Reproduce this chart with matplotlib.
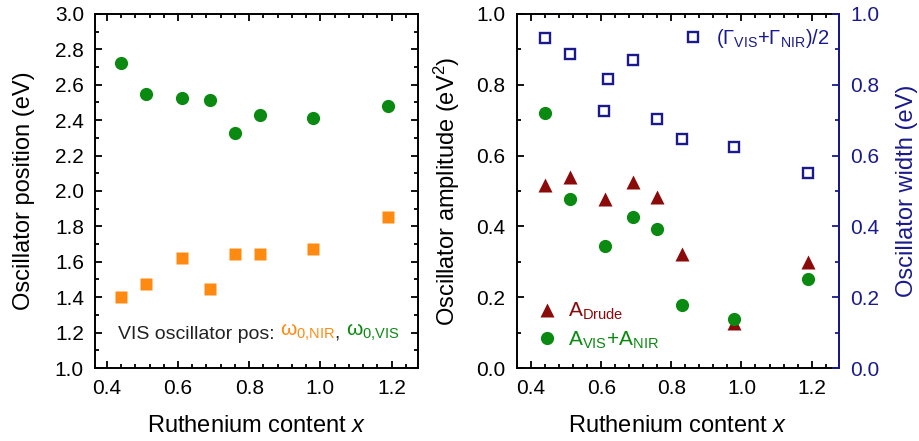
import matplotlib
matplotlib.use("Agg")
import matplotlib.pyplot as plt
from matplotlib.ticker import MultipleLocator
from matplotlib.lines import Line2D

plt.rcParams['font.family'] = ['Liberation Sans', 'DejaVu Sans']
plt.rcParams['mathtext.fontset'] = 'custom'
plt.rcParams['mathtext.rm'] = 'Liberation Sans'
plt.rcParams['mathtext.it'] = 'Liberation Sans:italic'
plt.rcParams['mathtext.sf'] = 'Liberation Sans'

# ---- data ----
x_ru = [0.44, 0.51, 0.61, 0.69, 0.76, 0.83, 0.98, 1.19]
w0_vis = [2.72, 2.55, 2.525, 2.515, 2.33, 2.43, 2.41, 2.48]
w0_nir = [1.40, 1.475, 1.62, 1.445, 1.645, 1.645, 1.67, 1.855]

a_drude = [0.517, 0.538, 0.477, 0.525, 0.483, 0.323, 0.126, 0.30]
a_visnir = [0.72, 0.477, 0.345, 0.427, 0.393, 0.179, 0.137, 0.252]

x_gamma = [0.44, 0.51, 0.618, 0.608, 0.69, 0.76, 0.83, 0.98, 1.19]
gamma = [0.931, 0.888, 0.817, 0.726, 0.871, 0.704, 0.647, 0.625, 0.550]

green = '#0b8a12'
orange = '#ff8a12'
darkred = '#8b0a0a'
navy = '#1a1a8c'

fig = plt.figure(figsize=(9.2, 4.41), dpi=100)
ax1 = fig.add_axes([0.1033, 0.1655, 0.351, 0.803])
ax2 = fig.add_axes([0.5616, 0.1655, 0.3507, 0.803])


def style(ax, right=True):
    for s in ax.spines.values():
        s.set_linewidth(1.4)
    ax.xaxis.set_major_locator(MultipleLocator(0.2))
    ax.xaxis.set_minor_locator(MultipleLocator(0.04))
    ax.tick_params(which='both', direction='in', top=True, right=right,
                   labelsize=15, width=1.3, pad=8)
    ax.tick_params(which='major', length=5)
    ax.tick_params(which='minor', length=3)


# left panel
ax1.plot(x_ru, w0_vis, 'o', color=green, ms=9.5, mec='none')
ax1.plot(x_ru, w0_nir, 's', color=orange, ms=8, mec='none')
ax1.set_xlim(0.367, 1.274)
ax1.set_ylim(1.0, 3.0)
style(ax1)
ax1.yaxis.set_major_locator(MultipleLocator(0.2))
ax1.yaxis.set_minor_locator(MultipleLocator(0.1))
ax1.set_xlabel('Ruthenium content $x$', fontsize=17, labelpad=12)
ax1.set_ylabel('Oscillator position (eV)', fontsize=17, labelpad=14)

t1 = ax1.text(0.432, 1.165, 'VIS oscillator pos: ', fontsize=14, color='#222222',
              va='baseline')
t2 = ax1.annotate(r'ω$_{\mathrm{0{,}NIR}}$', xy=(1, 0), xycoords=t1,
                  fontsize=15, color=orange, va='bottom')
t3 = ax1.annotate(', ', xy=(1, 0), xycoords=t2, fontsize=14, color='#222222',
                  va='bottom')
ax1.annotate(r'ω$_{\mathrm{0{,}VIS}}$', xy=(1, 0), xycoords=t3,
             fontsize=15, color=green, va='bottom')

# right panel
ax2.plot(x_ru, a_drude, '^', color=darkred, ms=10.5, mec='none')
ax2.plot(x_ru, a_visnir, 'o', color=green, ms=9.5, mec='none')
ax2.set_xlim(0.359, 1.279)
ax2.set_ylim(0.0, 1.0)
style(ax2, right=False)
ax2.yaxis.set_major_locator(MultipleLocator(0.2))
ax2.yaxis.set_minor_locator(MultipleLocator(0.1))
ax2.set_xlabel('Ruthenium content $x$', fontsize=17, labelpad=12)
ax2.set_ylabel('Oscillator amplitude (eV$^2$)', fontsize=17, labelpad=10)

ax3 = ax2.twinx()
ax3.plot(x_gamma, gamma, 's', color=navy, ms=7, mfc='white', mec=navy, mew=1.7)
ax3.set_ylim(0.0, 1.0)
ax3.yaxis.set_major_locator(MultipleLocator(0.2))
ax3.yaxis.set_minor_locator(MultipleLocator(0.1))
ax3.tick_params(which='both', direction='in', colors=navy, labelsize=15,
                width=1.3, pad=8)
ax3.tick_params(which='major', length=5)
ax3.tick_params(which='minor', length=3)
ax3.spines['right'].set_color(navy)
ax3.spines['right'].set_linewidth(1.4)
for k in ['left', 'top', 'bottom']:
    ax3.spines[k].set_visible(False)
ax3.set_ylabel('Oscillator width (eV)', fontsize=17, color=navy, labelpad=12)

h1 = [Line2D([], [], ls='none', marker='^', color=darkred, ms=10.5, mec='none'),
      Line2D([], [], ls='none', marker='o', color=green, ms=9.5, mec='none')]
leg = ax3.legend(h1, [r'A$_{\mathrm{Drude}}$', r'A$_{\mathrm{VIS}}$+A$_{\mathrm{NIR}}$'],
                 loc='lower left', bbox_to_anchor=(0.03, 0.025), frameon=False,
                 fontsize=15, handlelength=1.2, handletextpad=0.4,
                 labelspacing=0.35, borderaxespad=0)
for txt, c in zip(leg.get_texts(), [darkred, green]):
    txt.set_color(c)

h2 = [Line2D([], [], ls='none', marker='s', color=navy, ms=7, mfc='white',
             mec=navy, mew=1.7)]
leg2 = ax3.legend(h2, [r'(Γ$_{\mathrm{VIS}}$+Γ$_{\mathrm{NIR}}$)/2'],
                  loc='upper right', bbox_to_anchor=(0.993, 0.985), frameon=False,
                  fontsize=14.5, handlelength=1.0, handletextpad=0.6,
                  borderaxespad=0)
leg2.get_texts()[0].set_color(navy)
ax3.add_artist(leg)

fig.savefig('out.png', dpi=100)
